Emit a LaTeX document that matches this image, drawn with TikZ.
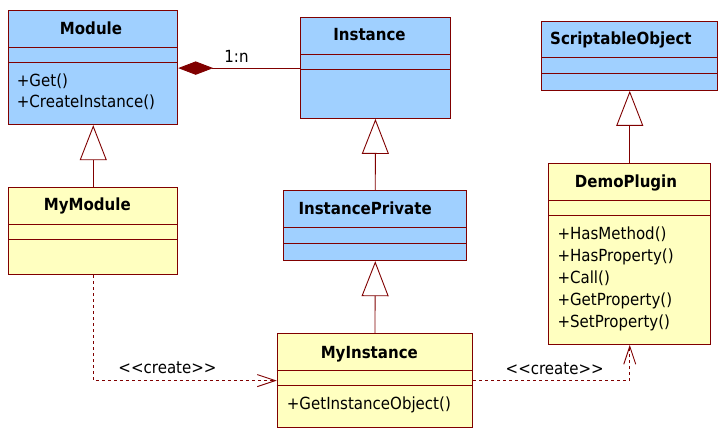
\documentclass[tikz,border=0pt]{standalone}
\usepackage{fontspec}
\setmainfont{DejaVu Sans Condensed}
\usetikzlibrary{arrows.meta}
\definecolor{umlborder}{RGB}{128,0,0}
\definecolor{umlblue}{RGB}{160,208,255}
\definecolor{umlyellow}{RGB}{255,255,192}
\begin{document}
\begin{tikzpicture}[x=1pt,y=-1pt,
  cls/.style={draw=umlborder, line width=0.9pt, anchor=north west, inner sep=0pt},
  bluecls/.style={cls, fill=umlblue},
  yellowcls/.style={cls, fill=umlyellow},
  divline/.style={draw=umlborder, line width=0.9pt},
  conn/.style={draw=umlborder, line width=0.9pt},
  dep/.style={conn, dash pattern=on 3pt off 3pt, -{Straight Barb[length=18pt,width=12pt]}},
  inh/.style={conn, -{Triangle[open, length=35pt, width=27pt]}},
  comp/.style={conn, -{Diamond[length=35pt, width=13.4pt, fill=umlborder]}},
  ttl/.style={font=\fontsize{16.7}{18}\selectfont\bfseries, inner sep=0pt, anchor=base},
  ttlw/.style={ttl, anchor=base west},
  mth/.style={font=\fontsize{16.7}{18}\selectfont, inner sep=0pt, anchor=base west},
  lbl/.style={font=\fontsize{16.7}{18}\selectfont, inner sep=0pt, anchor=base}]
\useasboundingbox (0,0) rectangle (725,435);
\fill[white] (0,0) rectangle (725,435);

% class boxes
\node[bluecls, minimum width=169pt, minimum height=114pt] (module) at (8.3,10.3) {};
\node[bluecls, minimum width=149.4pt, minimum height=100.7pt] (instance) at (300.3,17.3) {};
\node[bluecls, minimum width=176pt, minimum height=69.3pt] (scriptable) at (541.3,20.7) {};
\node[yellowcls, minimum width=169pt, minimum height=87pt] (mymodule) at (8.3,187.3) {};
\node[bluecls, minimum width=183pt, minimum height=70pt] (instpriv) at (283.3,190.3) {};
\node[yellowcls, minimum width=162pt, minimum height=180.7pt] (demoplugin) at (548.3,163.3) {};
\node[yellowcls, minimum width=195.6pt, minimum height=93.7pt] (myinstance) at (276.7,333.3) {};

% compartments
\draw[divline] (module.west |- 0,47.3) -- (module.east |- 0,47.3);
\draw[divline] (module.west |- 0,62.3) -- (module.east |- 0,62.3);
\draw[divline] (instance.west |- 0,54.3) -- (instance.east |- 0,54.3);
\draw[divline] (instance.west |- 0,69.3) -- (instance.east |- 0,69.3);
\draw[divline] (scriptable.west |- 0,57.3) -- (scriptable.east |- 0,57.3);
\draw[divline] (scriptable.west |- 0,73.3) -- (scriptable.east |- 0,73.3);
\draw[divline] (mymodule.west |- 0,224.3) -- (mymodule.east |- 0,224.3);
\draw[divline] (mymodule.west |- 0,239.3) -- (mymodule.east |- 0,239.3);
\draw[divline] (instpriv.west |- 0,227.3) -- (instpriv.east |- 0,227.3);
\draw[divline] (instpriv.west |- 0,243.7) -- (instpriv.east |- 0,243.7);
\draw[divline] (demoplugin.west |- 0,200.3) -- (demoplugin.east |- 0,200.3);
\draw[divline] (demoplugin.west |- 0,215.3) -- (demoplugin.east |- 0,215.3);
\draw[divline] (myinstance.west |- 0,370.3) -- (myinstance.east |- 0,370.3);
\draw[divline] (myinstance.west |- 0,385.3) -- (myinstance.east |- 0,385.3);

% texts
\node[ttl] (moduleT) at (91,34.3) {Module};
\node[mth] (moduleM1) at (16.7,87) {+Get()};
\node[mth] (moduleM2) at (16.7,108) {+CreateInstance()};
\node[ttl] (instanceT) at (369.5,40.6) {Instance};
\node[ttlw] (scriptableT) at (550,44.6) {ScriptableObject};
\node[ttl] (mymoduleT) at (87.3,210.6) {MyModule};
\node[ttlw] (instprivT) at (298.3,214.6) {InstancePrivate};
\node[ttl] (demopluginT) at (626,188) {DemoPlugin};
\node[mth] (dpM1) at (557.3,239.6) {+HasMethod()};
\node[mth] (dpM2) at (557.3,261.6) {+HasProperty()};
\node[mth] (dpM3) at (557.3,283.6) {+Call()};
\node[mth] (dpM4) at (557.3,305.6) {+GetProperty()};
\node[mth] (dpM5) at (557.3,327.6) {+SetProperty()};
\node[ttl] (myinstanceT) at (369.3,358) {MyInstance};
\node[mth] (myinstanceM1) at (286.7,409.6) {+GetInstanceObject()};

% connectors
\draw[inh] (mymodule.north) -- (module.south);
\draw[inh] (instpriv.north) -- (instance.south);
\draw[inh] (myinstance.north) -- (instpriv.south);
\draw[inh] (demoplugin.north) -- (scriptable.south);
\draw[comp] (instance.west) -- (instance.west -| module.east);
\node[lbl] (mult) at (236.5,62.3) {1:n};
\draw[dep] (mymodule.south) |- (myinstance.west);
\draw[dep] (myinstance.east) -| (demoplugin.south);
\node[lbl] (create1) at (167.5,373) {<\kern0pt<create>\kern0pt>};
\node[lbl] (create2) at (554.7,374.6) {<\kern0pt<create>\kern0pt>};
\end{tikzpicture}
\end{document}
